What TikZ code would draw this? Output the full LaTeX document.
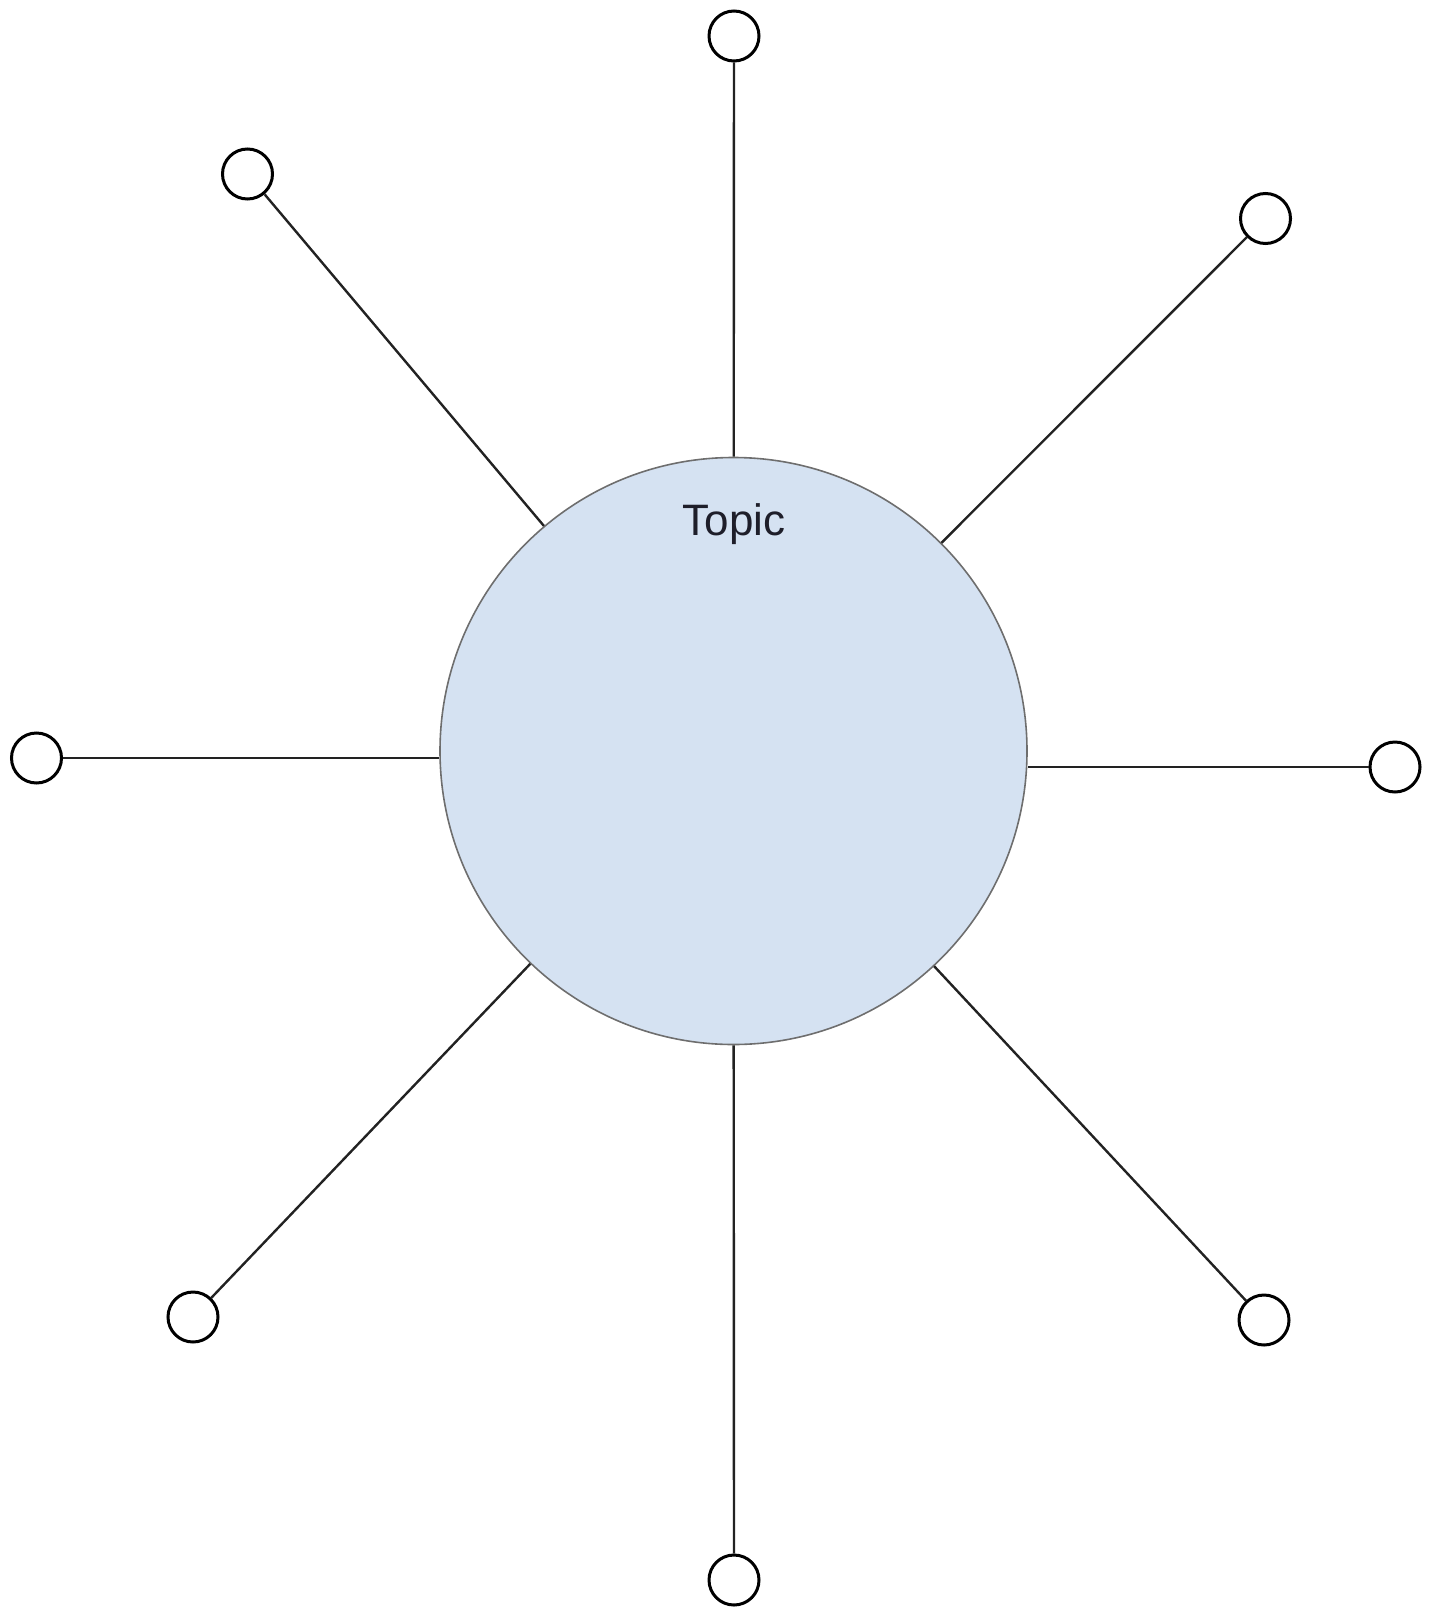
\documentclass[tikz,border=0pt]{standalone}
\usepackage{fontspec}
\setmainfont{Liberation Sans}
\definecolor{topicfill}{HTML}{D5E2F2}
\definecolor{topicline}{HTML}{6E6E6E}
\definecolor{inkdark}{HTML}{1E1E2A}
\definecolor{spoke}{HTML}{222222}
\tikzset{
  hub/.style={circle, draw=topicline, fill=topicfill, line width=1.6pt,
              minimum size=587pt, inner sep=0pt},
  leaf/.style={circle, draw=black, fill=white, line width=3pt,
               minimum size=50pt, inner sep=0pt},
  spokeline/.style={draw=spoke, line width=2.4pt},
  title/.style={font=\fontsize{44pt}{52pt}\selectfont, text=inkdark, inner sep=0pt}
}
\begin{document}
\begin{tikzpicture}[x=1pt, y=-1pt]
  \useasboundingbox (0,0) rectangle (1436,1608);

  % central topic
  \node[hub] (c) at (733.5,751) {};
  \node[title, anchor=base] (t) at (734,535) {Topic};

  % outer leaves
  \node[leaf] (n)  at (734,36)     {};
  \node[leaf] (ne) at (1265.5,218.5) {};
  \node[leaf] (e)  at (1395,767)   {};
  \node[leaf] (se) at (1264,1320)  {};
  \node[leaf] (s)  at (734,1580)   {};
  \node[leaf] (sw) at (193,1317)   {};
  \node[leaf] (w)  at (36.5,758)   {};
  \node[leaf] (nw) at (247.5,174)  {};

  % spokes
  \draw[spokeline] (n) -- (c);
  \draw[spokeline] (ne) -- (c);
  \draw[spokeline] (e) -- (e -| c.east);
  \draw[spokeline] (se) -- (c);
  \draw[spokeline] (s) -- (c);
  \draw[spokeline] (sw) -- (c);
  \draw[spokeline] (w) -- (w -| c.west);
  \draw[spokeline] (nw) -- (c);
\end{tikzpicture}
\end{document}
